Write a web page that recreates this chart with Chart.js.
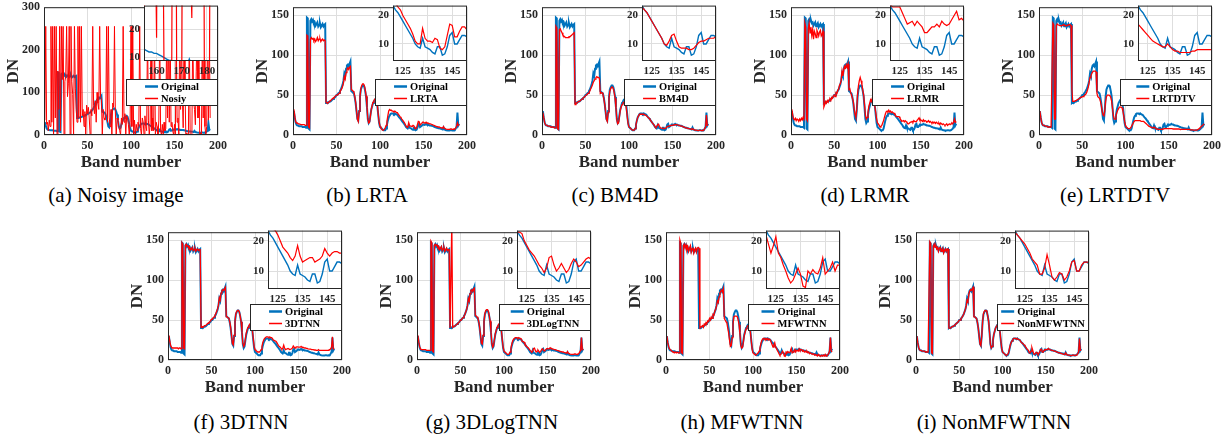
<!DOCTYPE html>
<html><head><meta charset="utf-8">
<script src="https://cdn.jsdelivr.net/npm/chart.js@4.4.1/dist/chart.umd.min.js"></script>
<style>
html,body{margin:0;padding:0;background:#fff;}
body{width:1229px;height:435px;position:relative;overflow:hidden;}
canvas{position:absolute;}
.cap{position:absolute;font-family:'Liberation Serif','Times New Roman',serif;font-size:21px;line-height:24px;color:#000;white-space:nowrap;transform:translateX(-50%);}
</style></head><body>
<script>
// ---------- DATA ----------
// band index 1..191 (x positions)
const bandNumbers = Array.from({length: 191}, (_, i) => i + 1);

const original = [
 30,22,16,13,12,12,11,11,11,11,
 10,10,10,10,9,147,146,8,7,143,
 145,142,144,140,141,137,139,141,136,138,
 140,135,137,139,136,138,139,40,41,40,
 41,42,42,43,44,45,46,47,48,50,
 50,52,53,55,57,60,63,68,77,74,
 83,87,88,86,89,92,55,54,53,52,
 47,40,30,20,18,30,48,57,60,62,
 62,60,55,48,35,20,15,17,25,32,
 36,40,42,44,45,43,36,25,15,10,
 9,8,7,6,6,6,8,13,18,22,
 24,26,27,27,27,26,27,26,26,25,
 23.5,22,21,19.5,18,16.5,15,13.5,12,10,
 9,8.5,12,9,8.5,8,7,6.5,9,9,
 6,6.5,9,13,14,10,10,11.5,13,13,
 12.5,13,14,13,13,12.5,12,12,11.5,11.5,
 11,10.5,10,9.5,9,9,8.5,8.5,8,8,
 7.5,7,9.5,7,6.5,6,6,5.5,5.5,5.5,
 6,6,5.5,5.5,6,6,8,10,28,12,
 14];

const noisy = [
 35,255,25,30,10,35,20,255,30,255,
 0,255,40,255,0,150,60,255,10,255,
 130,255,0,125,140,255,90,120,255,0,
 255,125,95,0,255,110,60,30,255,40,
 255,30,255,45,60,20,55,0,70,50,
 65,40,0,60,45,255,70,50,80,30,
 100,75,60,255,90,85,0,60,40,35,
 45,255,30,255,40,20,60,0,75,65,
 255,55,0,40,35,20,10,0,40,25,
 255,30,50,0,45,40,25,0,30,255,
 20,255,0,35,0,25,10,30,20,255,
 15,0,40,30,0,45,20,10,255,35,
 0,25,255,10,40,10,255,0,30,20,
 0,35,255,10,0,25,0,30,10,15,
 255,40,255,30,255,20,30,10,0,25,
 0,255,30,40,0,255,60,255,90,17,
 255,120,0,5,2,0,255,0,2,0,
 255,80,60,24,150,255,40,255,0,5,
 0,255,40,255,20,0,20,255,35,255,
 40];

const lrta = [
 32,24,17,15,15,14,14,14,13,13,
 13,13,13,12,12,125,124,10,9,120,
 122,120,121,118,120,117,119,122,118,120,
 121,117,119,120,118,119,118,41,40,40,
 41,42,43,44,45,46,47,48,49,50,
 50,51,52,54,56,58,61,65,73,70,
 78,82,84,82,85,86,57,56,55,54,
 48,41,30,20,17,30,48,58,62,64,
 64,62,57,49,36,20,15,16,24,32,
 37,41,43,45,46,44,37,26,16,11,
 9,7,6,6,7,9,12,17,24,30,
 32,31,31,30,30,29,30,29,28,28,
 26,24.5,23,22,20,18.5,17,15.5,13.5,11,
 10,10,15.5,12,11,11,10.5,12,11.5,8.5,
 8,9,13,17,16.5,12.5,12.5,14.5,16,16,
 15,15,16,15,15,14.5,14,14,13.5,13,
 12.5,12,11.5,11,10.5,10.5,10,10,9.5,9.5,
 9,8.5,10.5,8.5,8,7.5,7.5,7,7,7,
 7.5,7.5,7,7,7.5,7.5,9,11,15,12,
 13];

const bm4d = [
 28,22,16,13,12,12,11,11,11,10,
 10,10,10,9,9,136,134,8,7,132,
 133,130,128,125,124,123,122,122,122,122,
 123,123,124,125,126,127,128,38,40,40,
 41,42,42,43,44,45,46,47,48,49,
 50,51,52,53,55,58,60,63,66,68,
 70,72,73,72,72,71,52,53,53,51,
 46,39,30,20,17,28,46,55,58,60,
 60,58,53,46,34,19,14,15,23,31,
 35,38,40,41,41,39,33,23,14,10,
 9,8,7,6,6,6,8,13,18,22,
 24,26,26,26,26,26,26,25,25,24,
 23,22,21,19.5,18,16.5,15,13.5,12,10,
 9.5,11,13,13.5,11,9,8.5,8.5,8.5,8,
 8,8.5,9.5,10.5,11,11,11.5,12,12,12,
 12.5,12.5,13,13,13,12.5,12,12,11.5,11,
 11,10.5,10,9.5,9,9,8.5,8,8,8,
 7.5,7,8,7,6.5,6,6,6,5.5,5.5,
 6,6,5.5,5.5,6,6,8,10,25,12,
 12];

const lrmr = [
 32,25,20,19,21,18,20,19,17,20,
 18,21,19,22,20,140,135,20,18,133,
 140,128,135,125,132,120,130,127,122,131,
 128,124,129,131,124,126,130,35,38,42,
 40,43,41,44,45,43,47,46,49,50,
 48,53,52,56,57,62,64,68,80,74,
 82,86,84,88,85,89,57,58,53,50,
 46,42,33,26,22,32,52,62,68,72,
 68,63,56,50,38,25,20,22,28,36,
 40,44,42,46,44,41,35,28,20,15,
 14,12,10,11,12,15,18,22,26,29,
 30,29,31,29,30,28,29,28,27,27,
 24,23,23,23,23,21,19,17,17.5,18,
 16.5,18,17,16,14,14,15,16,16,17,
 16,18,17,16.5,17,18.5,20,21.5,18.5,19,
 18,17,19,17,18,17.5,16,17,18,16,
 17,16,15,16.5,15,16,14.5,16,15,14,
 15,13,15,14,13,14,13,12,13,14,
 12,13,14,13,14,15,14,16,20,16,
 17];

const lrtdtv = [
 30,22,16,13,12,12,11,11,11,10,
 10,10,10,10,10,140,138,20,20,137,
 139,138,138,137,137,137,137,138,138,137,
 137,137,137,138,138,138,137,58,42,42,
 42,43,43,44,44,45,46,47,47,48,
 48,49,50,51,53,56,60,66,72,74,
 77,79,80,80,80,79,52,48,47,46,
 42,37,30,25,24,30,42,48,50,50,
 50,49,47,42,33,24,20,20,24,28,
 31,33,35,35,35,34,30,24,17,12,
 10,9,8,8,8,9,11,13,15,17,
 18,18,18,18,18,18,18,17,17,17,
 17,16,15,14,13,12,11,10.5,10,9.5,
 9,9,10,9,8,7.5,7.5,7,7,7,
 7,7,7.5,7.5,8,8,8,8,8,8,
 8,8,8,8,7.5,7.5,7.5,7.5,7.5,7.5,
 7.5,7.5,7,7,7,7,7,7,7,7,
 7,7,7,7,6.5,6.5,6.5,6.5,6,6,
 6,6,6.5,7,8,9,10,11,12,13,
 14];

const tnn3d = [
 31,24,18,16,15,15,15,15,15,15,
 15,14,15,15,14,147,145,15,14,144,
 145,142,143,140,141,138,139,141,137,138,
 140,136,138,139,137,138,138,41,42,41,
 42,43,43,44,45,46,47,48,49,51,
 51,53,54,56,58,61,64,69,78,75,
 84,87,88,87,89,91,54,54,53,52,
 48,41,31,21,19,31,48,58,61,62,
 62,60,55,48,36,21,17,19,27,34,
 38,41,43,45,46,44,37,27,17,13,
 12,11,10,10,10,11,13,17,22,25,
 27,28,29,29,29,28,29,28,28,27,
 25,24.5,24,23.5,22,20,18,17,16,14.5,
 13.5,15,18.5,15,13,13.5,14,14.5,14.5,13,
 13.5,14,15,17.5,16,15,16,16.5,16.5,16,
 16,16,17,16,16,15.5,15,15,14.5,14.5,
 14,14,13.5,13.5,13,13,13,12.5,12.5,12.5,
 12,12,13,12,12,12,12,12,12,12,
 12,12,12,12,12.5,13,14,16,29,14,
 15];

const logtnn3d = [
 31,23,17,14,13,13,13,13,13,13,
 12,12,12,12,12,149,147,11,10,144,
 145,143,144,141,142,138,140,142,137,139,
 141,136,138,140,137,138,138,40,40,170,
 41,42,42,43,44,45,46,47,48,50,
 50,52,53,55,57,60,63,68,77,74,
 83,87,88,86,89,90,56,55,54,52,
 48,41,31,21,20,31,48,58,62,63,
 63,61,56,49,36,21,16,18,26,33,
 37,41,43,45,46,44,37,26,16,11,
 10,9,8,7,7,8,10,15,20,24,
 26,27,28,28,28,27,28,27,27,26,
 23,23,22.5,20,18.5,17,16,15,13.5,12,
 11,9.5,11,14.5,15,12,10,11,12.5,11,
 9.5,10.5,12.5,14,13,11.5,12,13,14,14.5,
 14,14,15.5,14.5,14,14,13.5,13,13,12.5,
 12,12,11.5,11,10.5,10.5,10,10,9.5,9.5,
 9,8.5,10.5,8.5,8,7.5,7.5,7,7,7,
 7.5,7.5,7,7,7.5,8,10,12,28,13,
 14];

const mfwtnn = [
 30,22,17,14,13,12,11,10,10,9,
 10,9,10,9,9,150,146,9,8,143,
 145,140,144,138,142,136,140,143,135,139,
 141,134,138,140,135,140,141,140,40,41,
 42,43,41,45,44,47,46,49,48,52,
 50,54,52,57,56,61,63,67,74,72,
 79,84,86,88,85,89,52,50,48,46,
 40,34,25,17,18,28,45,54,55,55,
 55,54,50,44,33,18,15,16,23,31,
 35,39,41,43,43,41,35,24,14,9,
 8,7,6,7,8,9,11,15,20,24,
 26,27,27,25,27,26,27,25,26,25,
 22,19,16,18.5,21.5,16,14.5,12,10,7.7,
 6,7,9,11,8.9,5,4.5,10,9,10.5,
 9.4,9,11,14.5,9,10,11,13,10,12,
 12,11,14,12,13,13,11,12,10,11,
 10,11,9,10,8,9,8,7,8,7,
 6,7,6,5,7,6,5,5,6,5,
 6,5,7,5,6,7,8,12,28,11,
 10];

const nonmfwtnn = [
 30,22,16,13,12,12,11,11,11,11,
 10,10,10,10,10,148,146,9,8,142,
 145,141,143,139,141,136,140,141,136,138,
 140,134,137,139,136,139,139,40,40,40,
 41,42,42,43,44,45,46,47,48,50,
 50,52,53,55,57,60,63,67,75,73,
 82,86,88,87,89,91,54,54,53,52,
 47,40,30,20,18,30,48,58,61,62,
 62,60,55,48,35,20,15,17,25,32,
 36,40,42,44,45,43,36,25,15,10,
 9,8,7,6,6,7,9,14,19,22,
 24,26,27,27,27,26,27,26,26,25,
 23,22,21,20,19,17.5,16,14,13,12,
 9,9,11,15.5,12,8,7,8,9.5,9,
 7,8,10,13,13.5,10,10,12,13,13,
 13,13,14.5,13.5,13,12.5,12,12,11.5,11,
 11,10.5,10,9.5,9,9,8.5,8,8,7.5,
 7.5,7,9,7,6.5,6,6,6,5.5,5.5,
 6,6,6,5.5,6,6.5,8,10,27,12,
 12];

const methodLabels = ['Nosiy','LRTA','BM4D','LRMR','LRTDTV','3DTNN','3DLogTNN','MFWTNN','NonMFWTNN'];
const captionTexts = ['(a) Noisy image','(b) LRTA','(c) BM4D','(d) LRMR','(e) LRTDTV','(f) 3DTNN','(g) 3DLogTNN','(h) MFWTNN','(i) NonMFWTNN'];
const originalLabel = 'Original';
const mainXTicks = [0, 50, 100, 150, 200];
const mainYTicks = [0, 50, 100, 150];
const noisyYTicks = [0, 100, 200, 300];
const insetXTicks = [125, 135, 145];
const noisyInsetXTicks = [160, 170, 180];
const insetYTicks = [10, 20];

// ---------- STYLE / LAYOUT ----------
const F = "'Liberation Serif','Times New Roman',serif";
const BLUE = '#0072BD', RED = '#FF0000', GRID = '#dedede', AX = '#262626';
const seriesList = [noisy, lrta, bm4d, lrmr, lrtdtv, tnn3d, logtnn3d, mfwtnn, nonmfwtnn];
const layoutDefs = [
  {L:44, T:7, R:218, B:135, yMax:300, yTicks:noisyYTicks, ix:[155,184.4], iy:[8.8,28.4], ixT:noisyInsetXTicks, iH:55, capX:116, capY:195, redW:1},
  {L:293, T:7, R:467, B:135, yMax:160, yTicks:mainYTicks, ix:[121,151], iy:[4,23.5], ixT:insetXTicks, iH:55, capX:367, capY:195, redW:1.3},
  {L:542, T:7, R:716, B:135, yMax:160, yTicks:mainYTicks, ix:[121,151], iy:[4,23.5], ixT:insetXTicks, iH:55, capX:615, capY:195, redW:1.3},
  {L:791, T:7, R:964, B:135, yMax:160, yTicks:mainYTicks, ix:[121,151], iy:[4,23.5], ixT:insetXTicks, iH:55, capX:865, capY:195, redW:1.3},
  {L:1039, T:7, R:1212, B:135, yMax:160, yTicks:mainYTicks, ix:[121,151], iy:[4,23.5], ixT:insetXTicks, iH:55, capX:1115, capY:195, redW:1.3},
  {L:168, T:232, R:342, B:360, yMax:160, yTicks:mainYTicks, ix:[121,151], iy:[4,23.5], ixT:insetXTicks, iH:58, capX:241, capY:422, redW:1.3},
  {L:417, T:232, R:591, B:360, yMax:160, yTicks:mainYTicks, ix:[121,151], iy:[4,23.5], ixT:insetXTicks, iH:58, capX:492, capY:422, redW:1.3},
  {L:666, T:232, R:840, B:360, yMax:160, yTicks:mainYTicks, ix:[121,151], iy:[4,23.5], ixT:insetXTicks, iH:58, capX:742, capY:422, redW:1.3},
  {L:916, T:232, R:1089, B:360, yMax:160, yTicks:mainYTicks, ix:[121,151], iy:[4,23.5], ixT:insetXTicks, iH:58, capX:994, capY:422, redW:1.3}
];

const pts = arr => arr.map((v, i) => ({x: bandNumbers[i], y: v}));

const framePlugin = {
  id: 'frame',
  afterDatasetsDraw(chart) {
    const {ctx, chartArea: a} = chart;
    ctx.save();
    ctx.strokeStyle = AX; ctx.lineWidth = 1;
    ctx.strokeRect(a.left + 0.5, a.top + 0.5, a.right - a.left - 1, a.bottom - a.top - 1);
    ctx.restore();
  }
};
const whiteBgPlugin = {
  id: 'whiteBg',
  beforeDraw(chart) {
    const {ctx, chartArea: a} = chart;
    ctx.save(); ctx.fillStyle = '#fff';
    ctx.fillRect(a.left, a.top, a.right - a.left, a.bottom - a.top);
    ctx.restore();
  }
};
const boxLegendPlugin = {
  id: 'boxLegend',
  afterDraw(chart, args, opts) {
    if (!opts || !opts.show) return;
    const {ctx, chartArea: a} = chart;
    const w = opts.w, h = opts.h;
    const x = Math.round(a.right - w), y = Math.round(a.top + opts.dy);
    ctx.save();
    ctx.fillStyle = '#fff'; ctx.fillRect(x, y, w, h);
    ctx.strokeStyle = AX; ctx.lineWidth = 1; ctx.strokeRect(x + 0.5, y + 0.5, w - 1, h - 1);
    ctx.font = 'bold 10.5px ' + F;
    const items = [chart.data.datasets[1], chart.data.datasets[0]];
    const tw = Math.max(...items.map(d => ctx.measureText(d.label).width));
    const lineLen = 13, gap = 3;
    const x0 = x + Math.max(3, (w - (lineLen + gap + tw)) / 2);
    items.forEach((d, i) => {
      const cy = y + 7.5 + i * 12;
      ctx.strokeStyle = d.borderColor; ctx.lineWidth = i === 0 ? 2.5 : 1.5;
      ctx.beginPath(); ctx.moveTo(x0, cy); ctx.lineTo(x0 + lineLen, cy); ctx.stroke();
      ctx.fillStyle = '#000'; ctx.textBaseline = 'middle'; ctx.textAlign = 'left';
      ctx.fillText(d.label, x0 + lineLen + gap, cy + 0.5);
    });
    ctx.restore();
  }
};

function addCanvas(left, top, w, h) {
  const c = document.createElement('canvas');
  setCanvas(c, left, top, w, h);
  document.body.appendChild(c);
  return c;
}
function setCanvas(c, left, top, w, h) {
  c.width = w; c.height = h;
  c.style.left = left + 'px'; c.style.top = top + 'px';
  c.style.width = w + 'px'; c.style.height = h + 'px';
}

// build a chart whose plot area lands exactly on the page rectangle (L,T)-(R,B)
function alignedChart(area, makeCfg) {
  const c = addCanvas(0, 0, Math.round(area.R - area.L) + 120, Math.round(area.B - area.T) + 120);
  let ch = new Chart(c, makeCfg());
  const a = ch.chartArea;
  const offL = a.left, offT = a.top, offR = c.width - a.right, offB = c.height - a.bottom;
  ch.destroy();
  const w = Math.round(area.R - area.L + offL + offR), h = Math.round(area.B - area.T + offT + offB);
  setCanvas(c, Math.round(area.L - offL), Math.round(area.T - offT), w, h);
  return new Chart(c, makeCfg());
}

function axis(min, max, ticks, fontSize, fit, title, titlePad) {
  return {
    type: 'linear', min, max,
    afterBuildTicks: s => { s.ticks = ticks.map(v => ({value: v})); },
    afterFit: fit,
    grid: {color: GRID, drawTicks: false, lineWidth: 1},
    border: {display: false},
    ticks: {font: {family: F, size: fontSize, weight: 'bold'}, color: AX, padding: 4, maxRotation: 0, autoSkip: false},
    title: title ? {display: true, text: title, font: {family: F, size: 17, weight: 'bold'}, color: AX, padding: titlePad} : {display: false}
  };
}

function datasets(values, label, wBlue, wRed) {
  return [
    {label: label, data: pts(values), borderColor: RED, borderWidth: wRed, pointRadius: 0, tension: 0, order: 1, clip: 0},
    {label: originalLabel, data: pts(original), borderColor: BLUE, borderWidth: wBlue, pointRadius: 0, tension: 0, order: 2, clip: 0}
  ];
}

layoutDefs.forEach((p, k) => {
  // main chart
  const YW = 44, XH = 38;
  alignedChart({L: p.L, T: p.T, R: p.R, B: p.B}, () => ({
    type: 'line',
    data: {datasets: datasets(seriesList[k], methodLabels[k], 2, p.redW)},
    options: {
      animation: false, responsive: false, devicePixelRatio: 1, events: [],
      layout: {padding: {top: 6, right: 14, left: 0, bottom: 0}},
      plugins: {legend: {display: false}, tooltip: {enabled: false},
        boxLegend: {show: true, w: 92, h: 27, dy: 72}},
      scales: {
        x: axis(0, 200, mainXTicks, 12, s => { s.height = XH; }, 'Band number', {top: 0, bottom: 0}),
        y: axis(0, p.yMax, p.yTicks, 12, s => { s.width = YW; }, 'DN', {top: 3, bottom: 0})
      }
    },
    plugins: [framePlugin, boxLegendPlugin]
  }));

  // inset chart
  const IW = 74;
  alignedChart({L: p.R - IW, T: p.T - 1, R: p.R, B: p.T - 1 + p.iH}, () => ({
    type: 'line',
    data: {datasets: datasets(seriesList[k], methodLabels[k], 1.4, 1.2)},
    options: {
      animation: false, responsive: false, devicePixelRatio: 1, events: [],
      layout: {padding: {top: 2, right: 14, left: 0, bottom: 0}},
      plugins: {legend: {display: false}, tooltip: {enabled: false}, boxLegend: {show: false}},
      scales: {
        x: axis(p.ix[0], p.ix[1], p.ixT, 11, s => { s.height = 20; }, null),
        y: axis(p.iy[0], p.iy[1], insetYTicks, 11, s => { s.width = 24; }, null)
      }
    },
    plugins: [whiteBgPlugin, framePlugin]
  }));

  // caption
  const cap = document.createElement('div');
  cap.className = 'cap';
  cap.textContent = captionTexts[k];
  cap.style.left = p.capX + 'px';
  cap.style.top = (p.capY - 12) + 'px';
  document.body.appendChild(cap);
});
</script>
</body></html>
